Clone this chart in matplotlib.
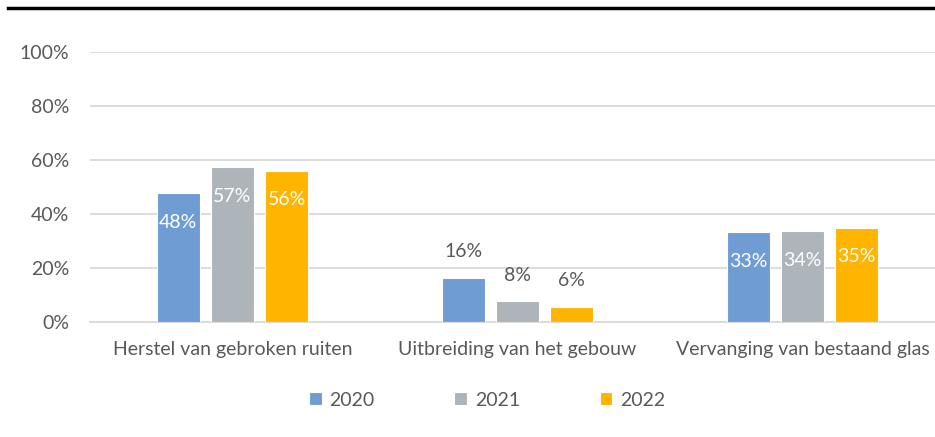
import matplotlib.pyplot as plt
import numpy as np
from matplotlib.lines import Line2D

categories = ["Herstel van gebroken ruiten", "Uitbreiding van het gebouw", "Vervanging van bestaand glas"]
years = ["2020", "2021", "2022"]
values = {
    "2020": [47.6, 16.3, 33.2],
    "2021": [57.4, 7.6, 33.6],
    "2022": [56.0, 5.7, 34.9],
}
colors = ["#6F9CD3", "#ADB4BA", "#FFB400"]
text_grey = "#595959"

plt.rcParams["font.family"] = ["Lato", "DejaVu Sans"]
fs = 14

fig = plt.figure(figsize=(9.35, 4.37), dpi=100)
ax = fig.add_axes([90 / 935, 115 / 437, 855 / 935, 270 / 437])

x = np.arange(len(categories))
width = 0.152
step = 0.19

for i, (year, color) in enumerate(zip(years, colors)):
    vals = values[year]
    bars = ax.bar(x + (i - 1) * step, vals, width, color=color, edgecolor="white",
                  linewidth=0.8, label=year, zorder=3)
    for b, v in zip(bars, vals):
        cx = b.get_x() + b.get_width() / 2
        if v >= 30:
            ax.annotate(f"{round(v)}%", (cx, v), xytext=(0, -21), textcoords="offset points",
                        ha="center", va="center", color="white", fontsize=fs, zorder=4)
        else:
            ax.annotate(f"{round(v)}%", (cx, v), xytext=(0, 19), textcoords="offset points",
                        ha="center", va="center", color=text_grey, fontsize=fs, zorder=4)

ax.set_xlim(-0.5, 2.5)
ax.set_ylim(0, 100)
ax.set_yticks(np.arange(0, 101, 20))
ax.set_yticklabels([f"{t}%" for t in range(0, 101, 20)])
ax.set_xticks(x)
ax.set_xticklabels(categories)
ax.tick_params(length=0, labelsize=fs, colors=text_grey)
ax.tick_params(axis="x", pad=14)
ax.tick_params(axis="y", pad=15)
ax.grid(axis="y", color="#D9D9D9", linewidth=1.3, zorder=0)
for s in ["top", "right", "left"]:
    ax.spines[s].set_visible(False)
ax.spines["bottom"].set_color("#D9D9D9")
ax.spines["bottom"].set_linewidth(1.3)

leg = fig.legend(loc="center", bbox_to_anchor=(487 / 935, 1 - 400 / 437), ncol=3,
                 frameon=False, fontsize=fs, handlelength=0.65, handleheight=0.65,
                 handletextpad=0.4, columnspacing=4.1)
for t in leg.get_texts():
    t.set_color(text_grey)

# black rule at the top
fig.add_artist(Line2D([8 / 935, 1], [1 - 8 / 437, 1 - 8 / 437], color="black", linewidth=2.5))

fig.savefig("out.png", dpi=100)
